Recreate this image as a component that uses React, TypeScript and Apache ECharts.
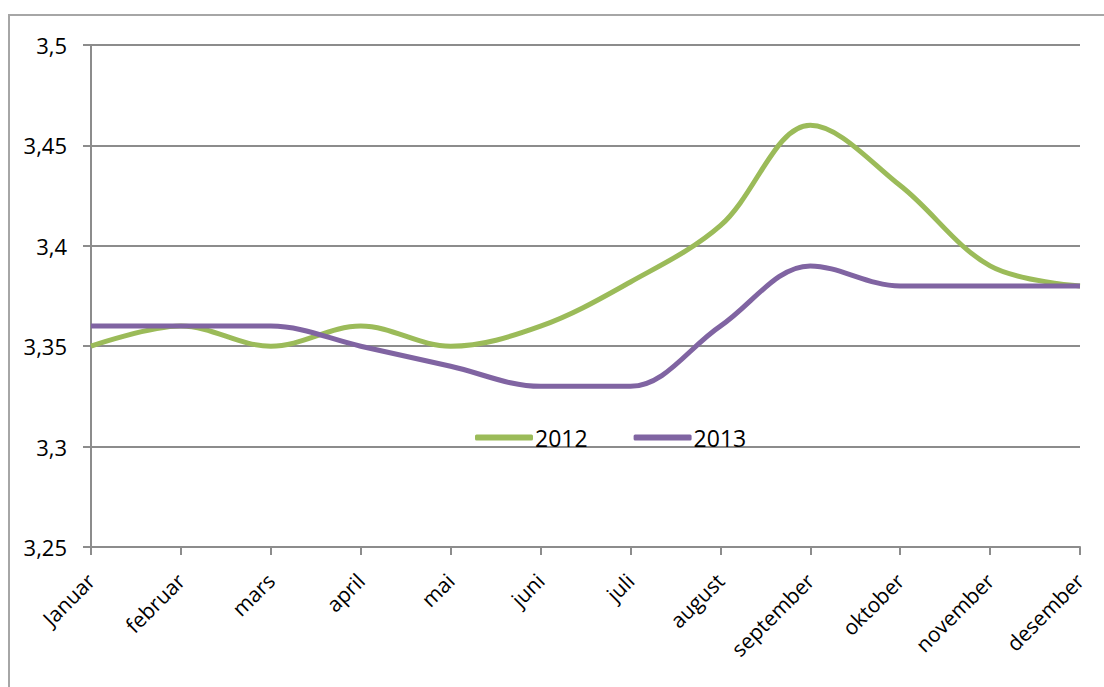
import React, { useEffect, useRef } from "react";
import * as echarts from "echarts";

const categories = ["Januar", "februar", "mars", "april", "mai", "juni", "juli", "august", "september", "oktober", "november", "desember"];
const series2012 = [3.35, 3.36, 3.35, 3.36, 3.35, 3.36, 3.382, 3.41, 3.46, 3.43, 3.39, 3.38];
const series2013 = [3.36, 3.36, 3.36, 3.35, 3.34, 3.33, 3.33, 3.36, 3.39, 3.38, 3.38, 3.38];
const seriesNames = ["2012", "2013"];
const yMin = 3.25;
const yMax = 3.5;
const yStep = 0.05;

const FONT = "Open Sans";

export default function App() {
  const ref = useRef<HTMLDivElement>(null);
  useEffect(() => {
    if (!ref.current) return;
    const chart = echarts.init(ref.current, undefined, { renderer: "svg" });
    const gray = "#8c8c8c";
    chart.setOption({
      animation: false,
      backgroundColor: "#ffffff",
      graphic: [
        {
          type: "rect",
          shape: { x: 9, y: 15, width: 1300, height: 900 },
          style: { fill: "none", stroke: "#a6a6a6", lineWidth: 2 },
          silent: true,
          z: -1,
        },
      ],
      grid: { left: 91, right: 24, top: 45, bottom: 140, containLabel: false },
      legend: {
        data: seriesNames,
        left: 470,
        top: 421,
        icon: "roundRect",
        itemWidth: 58,
        itemHeight: 6,
        itemGap: 46,
        textStyle: { fontFamily: FONT, fontSize: 23, color: "#000", padding: [0, 0, 0, -3] },
      },
      xAxis: {
        type: "category",
        data: categories,
        boundaryGap: false,
        axisLine: { lineStyle: { color: gray, width: 2 } },
        axisTick: { show: true, length: 8, lineStyle: { color: gray, width: 2 } },
        axisLabel: {
          rotate: 45,
          interval: 0,
          margin: 30,
          fontFamily: FONT,
          fontSize: 21,
          color: "#000",
        },
        splitLine: { show: false },
      },
      yAxis: {
        type: "value",
        min: yMin,
        max: yMax,
        interval: yStep,
        axisLine: { show: true, lineStyle: { color: gray, width: 2 } },
        axisTick: { show: true, length: 8, lineStyle: { color: gray, width: 2 } },
        axisLabel: {
          margin: 24,
          fontFamily: FONT,
          fontSize: 22,
          color: "#000",
          formatter: (v: number) => String(Math.round(v * 100) / 100).replace(".", ","),
        },
        splitLine: { show: true, lineStyle: { color: gray, width: 2 } },
      },
      series: [
        {
          name: seriesNames[0],
          type: "line",
          data: series2012,
          smooth: 0.35,
          symbol: "none",
          lineStyle: { color: "#9bbb59", width: 5 },
          itemStyle: { color: "#9bbb59" },
        },
        {
          name: seriesNames[1],
          type: "line",
          data: series2013,
          smooth: 0.35,
          symbol: "none",
          lineStyle: { color: "#8064a2", width: 5 },
          itemStyle: { color: "#8064a2" },
        },
      ],
    });
    return () => chart.dispose();
  }, []);
  return (
    <div
      ref={ref}
      style={{ position: "fixed", left: 0, top: 0, width: 1104, height: 687, background: "#fff" }}
    />
  );
}
